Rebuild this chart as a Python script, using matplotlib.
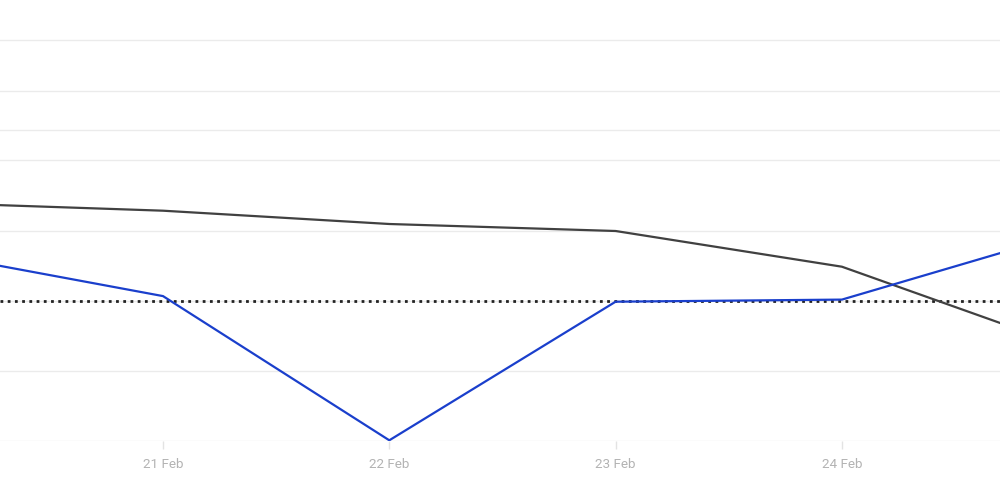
import matplotlib
matplotlib.use("Agg")
import matplotlib.pyplot as plt

# days in Feb (20 and 25 lie just outside the visible window)
days = [20, 21, 22, 23, 24, 25]
tick_days = [21, 22, 23, 24]
tick_labels = ["21 Feb", "22 Feb", "23 Feb", "24 Feb"]

gray_vals = [34.0, 32.9, 31.0, 30.0, 24.9, 13.4]
blue_vals = [26.7, 20.7, 0.1, 19.9, 20.2, 29.7]
target = 20
grid_vals = [0, 10, 20, 30, 40.1, 44.4, 50, 57.3]

fig = plt.figure(figsize=(10, 4.82), dpi=100)
ax = fig.add_axes([0, 1 - 441 / 482, 1, 441 / 482])

ax.plot(days, gray_vals, color="#414141", lw=1.6, zorder=3)
ax.plot(days, blue_vals, color="#1a3fcc", lw=1.6, zorder=4)
ax.axhline(target, color="#222222", lw=2, ls=(0, (1, 1.6)), zorder=2)

ax.set_xlim(21 - 163 / 226.3, 21 + 837 / 226.3)
ax.set_ylim(0, 63)

ax.set_yticks(grid_vals)
ax.yaxis.grid(True, color="#ebebeb", lw=1)
ax.tick_params(axis="y", left=False, labelleft=False)
ax.set_xticks(tick_days)
ax.set_xticklabels(tick_labels, fontfamily="Roboto", fontsize=9.7, color="#b3b3b3")
ax.tick_params(axis="x", length=6, width=1, color="#e3e3e3", pad=6)
for s in ax.spines.values():
    s.set_visible(False)
ax.set_axisbelow(True)

fig.savefig("out.png", dpi=100)
